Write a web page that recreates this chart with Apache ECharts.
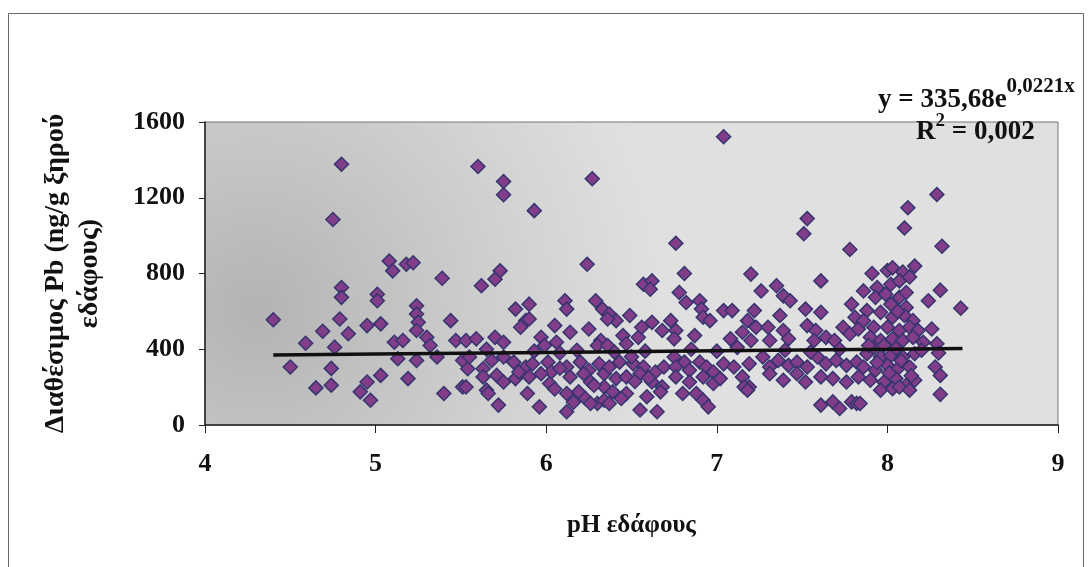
<!DOCTYPE html>
<html>
<head>
<meta charset="utf-8">
<script src="https://cdn.jsdelivr.net/npm/echarts@6/dist/echarts.min.js"></script>
<style>
  html, body { margin: 0; padding: 0; background: #fff; }
  #chart { width: 1089px; height: 567px; }
</style>
</head>
<body>
<div id="chart"></div>
<script>
// pH (x) and available Pb (y)
var phValues = [
  4.80, 4.75, 4.80, 4.80, 4.40, 4.79, 4.69, 4.84, 4.59, 4.76, 4.50, 4.74, 4.74, 4.65,
  5.08, 5.10, 5.18, 5.22, 5.39, 5.01, 5.01, 5.24, 5.24, 5.25, 5.24, 5.44, 4.95, 5.03,
  5.11, 5.16, 5.30, 5.32, 5.47, 5.53, 5.13, 5.24, 5.36, 5.51, 5.54, 5.03, 5.19, 4.95,
  4.91, 4.97, 5.40, 5.51, 5.53, 5.60,
  5.75, 5.75, 6.27, 5.93,
  6.24, 5.73, 5.70, 5.62, 6.57, 6.62, 6.61, 5.82, 5.90, 5.88, 5.85, 5.90, 6.11, 6.12,
  6.29, 6.33, 6.37, 6.41, 6.36, 6.49, 6.05, 6.14, 6.25, 5.59, 5.70, 5.75, 5.97, 5.99,
  6.06, 6.45, 6.54, 6.47, 6.56, 6.62, 6.68, 6.32, 6.30, 6.36,
  5.55, 5.63, 5.68, 5.75, 5.81, 5.88, 5.92, 6.01, 6.03, 6.12, 6.20, 6.25, 6.31, 6.34,
  6.37, 6.43, 6.51, 6.57, 6.64, 6.69,
  5.63, 5.71, 5.75, 5.82, 5.90, 5.97, 6.02, 6.14, 6.22, 6.26, 6.34, 6.41, 6.47, 6.55,
  6.62, 6.68,
  5.65, 5.66, 5.89, 6.12, 6.19, 6.23, 6.30, 6.34, 6.47, 6.59, 6.67,
  5.72, 5.96, 6.12, 6.26, 6.37, 6.55, 6.65,
  5.93, 6.08, 6.18, 6.40, 6.58, 5.65,
  6.05, 6.28, 6.44, 6.52, 6.16, 6.39, 6.60, 6.08, 5.84, 6.50,
  7.04, 7.53, 8.12, 8.10, 8.29,
  6.76, 7.51, 7.78, 6.81, 7.20, 7.61, 6.78, 6.82, 6.90, 6.91, 6.92, 6.96, 7.26, 7.35,
  7.39, 7.43, 7.04, 7.09, 7.22, 7.18, 7.23, 7.37, 7.30, 7.39, 7.52, 7.61, 7.79, 7.81,
  6.73, 6.76, 6.75, 6.87, 7.08, 7.15, 7.20, 7.42, 7.31,
  7.53, 7.58, 7.57, 7.64, 7.69, 7.74, 7.78, 7.83,
  6.75, 6.81, 6.76, 6.84, 6.90, 6.94, 6.98, 7.04, 7.10, 7.19, 7.27, 7.31, 7.36, 7.42,
  7.47, 7.53, 7.59, 7.64, 7.70, 7.76, 7.82,
  6.76, 6.84, 6.92, 6.98, 7.02, 7.15, 7.19, 7.31, 7.39, 7.47, 7.52, 7.61, 7.68, 7.76,
  7.83,
  6.80, 6.88, 6.92, 6.95, 7.16, 7.18, 7.61, 7.68, 7.72, 7.79, 7.82,
  6.85, 7.00, 7.12, 7.40, 7.55, 7.72,
  8.32, 8.16, 7.91, 8.00, 8.03, 8.09, 7.86, 7.94, 8.02, 8.07, 8.13, 8.31, 8.24, 8.43,
  7.93, 8.02, 8.07, 8.11, 7.88, 7.96, 8.03, 8.10, 8.15,
  7.86, 7.92, 8.00, 8.07, 8.13, 8.18, 8.26,
  7.90, 7.96, 8.03, 8.09, 8.15, 8.21, 8.29,
  7.88, 7.96, 8.02, 8.09, 8.16, 8.30,
  7.86, 7.93, 8.00, 8.06, 8.13, 8.28, 8.31,
  7.90, 7.98, 8.05, 8.12, 8.16,
  7.96, 8.03, 8.07, 8.13, 8.31, 7.84,
  7.92, 8.05, 8.20, 7.98,
  7.94, 8.01, 8.08, 8.14, 7.99, 8.06, 7.89, 8.11
];
var pbValues = [
  1377, 1085, 726, 674, 556, 560, 495, 482, 432, 411, 306, 299, 210, 196,
  866, 814, 849, 857, 775, 690, 656, 630, 586, 542, 499, 551, 525, 534,
  437, 446, 463, 420, 446, 446, 350, 341, 359, 341, 297, 262, 245, 227,
  175, 131, 166, 201, 201, 1365,
  1286, 1216, 1300, 1132,
  849, 814, 770, 735, 743, 761, 717, 612, 638, 551, 516, 560, 656, 612,
  656, 612, 586, 551, 560, 578, 525, 490, 507, 455, 463, 437, 463, 420,
  437, 472, 463, 429, 516, 542, 499, 446, 420, 420,
  359, 297, 341, 359, 332, 306, 323, 332, 280, 306, 332, 289, 323, 271,
  306, 332, 323, 306, 280, 306,
  254, 262, 227, 245, 254, 271, 219, 254, 271, 227, 201, 245, 254, 271,
  227, 201,
  184, 166, 166, 166, 175, 140, 114, 131, 166, 149, 175,
  105, 96, 70, 114, 114, 79, 70,
  390, 380, 395, 385, 390, 400,
  190, 210, 140, 230, 120, 175, 250, 300, 280, 360,
  1522, 1090, 1147, 1040, 1217,
  960, 1010, 927, 800, 797, 761, 700, 647, 656, 612, 569, 551, 708, 735,
  682, 656, 604, 604, 604, 551, 516, 578, 516, 499, 612, 595, 638, 569,
  551, 499, 455, 472, 455, 490, 446, 455, 446,
  525, 499, 446, 463, 446, 516, 481, 507,
  359, 332, 306, 289, 332, 306, 280, 323, 306, 323, 359, 306, 341, 315,
  332, 306, 359, 323, 341, 315, 332,
  254, 227, 254, 219, 245, 254, 201, 271, 236, 271, 227, 254, 245, 227,
  254,
  166, 166, 131, 96, 201, 184, 105, 122, 87, 122, 114,
  400, 390, 410, 395, 385, 400,
  944, 839, 800, 816, 830, 808, 708, 726, 743, 761, 782, 712, 656, 617,
  674, 638, 674, 621, 604, 595, 569, 578, 551,
  551, 516, 516, 499, 516, 499, 507,
  463, 446, 455, 446, 463, 437, 429,
  376, 359, 367, 359, 376, 380,
  306, 289, 315, 297, 306, 306, 262,
  236, 227, 245, 219, 236,
  184, 192, 201, 184, 162, 114,
  410, 405, 395, 420,
  330, 275, 340, 260, 690, 600, 420, 700
];
var yTicks = [0, 400, 800, 1200, 1600];
var xTicks = [4, 5, 6, 7, 8, 9];

// exponential trend line y = 335,68 e^(0,0221x)
var trendA = 335.68;
var trendB = 0.0221;
var trendX = [4.4, 5.0, 6.0, 7.0, 8.0, 8.44];

var points = [];
for (var i = 0; i < phValues.length; i++) {
  points.push([phValues[i], pbValues[i]]);
}
var trend = trendX.map(function (x) {
  return [x, trendA * Math.exp(trendB * x)];
});

var font = 'Liberation Serif';

var chartDom = document.getElementById('chart');
var myChart = echarts.init(chartDom);
var option = {
  animation: false,
  backgroundColor: '#fff',
  textStyle: { fontFamily: font },
  grid: {
    left: 205,
    right: 31,
    top: 122,
    bottom: 142,
    show: true,
    borderColor: '#777',
    borderWidth: 1,
    backgroundColor: new echarts.graphic.RadialGradient(0.06, 0.62, 1.35, [
      { offset: 0, color: '#b3b3b3' },
      { offset: 0.35, color: '#c4c4c4' },
      { offset: 0.7, color: '#d4d4d4' },
      { offset: 1, color: '#e0e0e0' }
    ])
  },
  xAxis: {
    type: 'value',
    min: xTicks[0],
    max: xTicks[xTicks.length - 1],
    interval: 1,
    name: 'pH εδάφους',
    nameLocation: 'middle',
    nameGap: 88,
    nameTextStyle: { color: '#111', fontSize: 25, fontWeight: 'bold', fontFamily: font },
    axisLine: { onZero: false, lineStyle: { color: '#222', width: 1.5 } },
    axisTick: { show: true, length: 8, lineStyle: { color: '#222' } },
    axisLabel: { color: '#111', fontSize: 26, fontWeight: 'bold', margin: 26, fontFamily: font },
    splitLine: { show: false }
  },
  yAxis: {
    type: 'value',
    min: yTicks[0],
    max: yTicks[yTicks.length - 1],
    interval: 400,
    name: 'Διαθέσιμος Pb (ng/g ξηρού\nεδάφους)',
    nameLocation: 'middle',
    nameRotate: 90,
    nameGap: 98,
    nameTextStyle: { color: '#111', fontSize: 28, fontWeight: 'bold', fontFamily: font, lineHeight: 34 },
    axisLine: { show: true, lineStyle: { color: '#222', width: 1.5 } },
    axisTick: { show: true, length: 6, lineStyle: { color: '#222' } },
    axisLabel: {
      color: '#111', fontSize: 26, fontWeight: 'bold', margin: 20, fontFamily: font,
      formatter: function (value) { return String(value); }
    },
    splitLine: { show: false }
  },
  graphic: [
    {
      type: 'rect',
      shape: { x: 8.5, y: 13.5, width: 1075, height: 560 },
      style: { fill: 'none', stroke: '#666', lineWidth: 1 },
      silent: true
    },
    {
      type: 'text',
      left: 878,
      top: 76,
      style: {
        text: '{a|y = 335,68e}{s|0,0221x}',
        rich: {
          a: { fontSize: 27, fontWeight: 'bold', fontFamily: font, fill: '#111', verticalAlign: 'bottom', lineHeight: 38 },
          s: { fontSize: 21, fontWeight: 'bold', fontFamily: font, fill: '#111', verticalAlign: 'top', lineHeight: 38 }
        }
      }
    },
    {
      type: 'text',
      left: 916,
      top: 112,
      style: {
        text: '{a|R}{s|2}{a| = 0,002}',
        rich: {
          a: { fontSize: 27, fontWeight: 'bold', fontFamily: font, fill: '#111', verticalAlign: 'bottom', lineHeight: 34 },
          s: { fontSize: 19, fontWeight: 'bold', fontFamily: font, fill: '#111', verticalAlign: 'top', lineHeight: 34 }
        }
      }
    }
  ],
  series: [
    {
      name: 'Pb',
      type: 'scatter',
      symbol: 'diamond',
      symbolSize: [14, 14],
      itemStyle: {
        color: '#823d88',
        borderColor: '#35356f',
        borderWidth: 1.5,
        opacity: 1
      },
      data: points,
      z: 2
    },
    {
      name: 'trend',
      type: 'line',
      symbol: 'none',
      smooth: false,
      lineStyle: { color: '#111', width: 3.5 },
      data: trend,
      z: 3
    }
  ]
};

option && myChart.setOption(option);

window.onresize = function () {
  myChart.resize();
};
</script>
</body>
</html>
